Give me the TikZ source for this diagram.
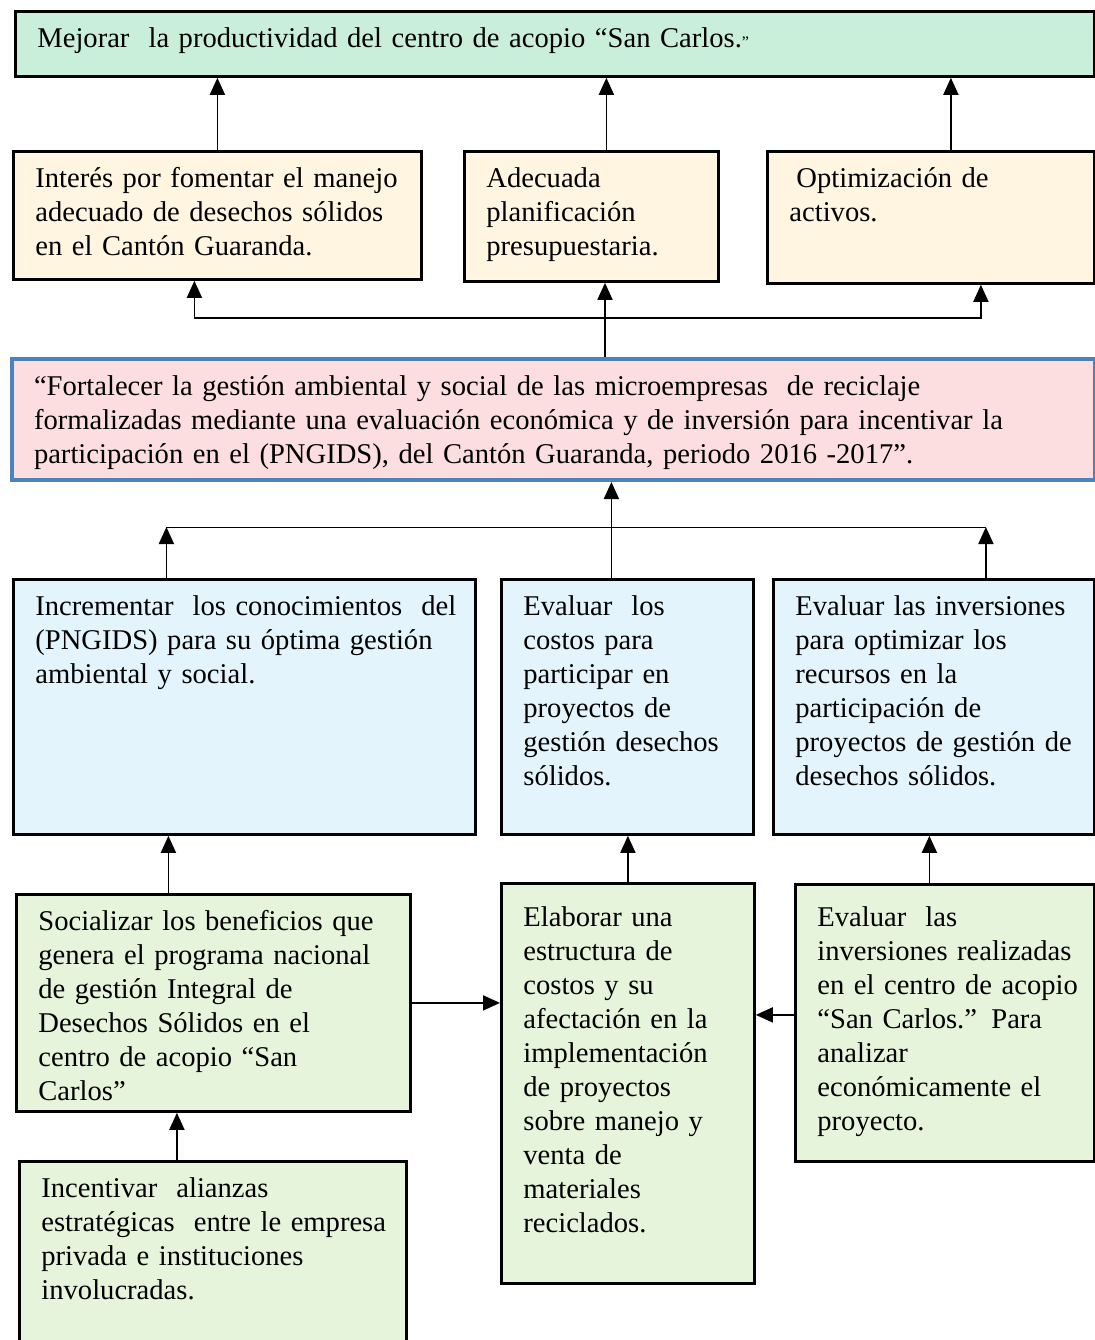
\documentclass[tikz,border=0pt]{standalone}
\usepackage{fontspec}
\setmainfont{Liberation Serif}
\usepackage{tikz}
\usetikzlibrary{arrows.meta}
\usetikzlibrary{calc}
\definecolor{menta}{HTML}{C9EEDA}
\definecolor{crema}{HTML}{FFF5E1}
\definecolor{rosa}{HTML}{FDDEE0}
\definecolor{azulb}{HTML}{4F81BD}
\definecolor{celeste}{HTML}{E3F4FC}
\definecolor{verdec}{HTML}{E7F4DC}

\begin{document}
\begin{tikzpicture}[x=0.5pt,y=-0.5pt,
  caja/.style={draw,line width=1.4pt,anchor=north west,align=left,
    inner xsep=0pt,inner ysep=8pt,text height=10pt,
    font=\fontsize{14.3pt}{17pt}\selectfont,
    execute at begin node={\leftskip=11pt}},
  flecha/.style={-{Triangle[length=8.5pt,width=7.5pt]},line width=0.9pt}]
\useasboundingbox (0,0) rectangle (1094,1340);
  \node[caja,fill=menta,text width=539.5pt,text depth=6.5pt] at (14,10) (fin){Mejorar~ la productividad del centro de acopio “San Carlos.{\footnotesize ”}};

  \node[caja,fill=crema,text width=204pt,text depth=38pt] at (12,150) (efecto1){Interés por fomentar el manejo\\adecuado de desechos sólidos\\en el Cantón Guaranda.};
  \node[caja,fill=crema,text width=127pt,text depth=39pt] at (463,150) (efecto2){Adecuada\\planificación\\presupuestaria.};
  \node[caja,fill=crema,text width=163.5pt,text depth=40pt] at (766,150) (efecto3){\hspace{3.5pt}Optimización de\\activos.};
  \draw [flecha] (efecto1.north) -- (efecto1.north |- fin.south);
  \draw [flecha] ([xshift=7.5pt]efecto2.north) -- ([xshift=7.5pt]efecto2.north |- fin.south);
  \draw [flecha] ([xshift=10pt]efecto3.north) -- ([xshift=10pt]efecto3.north |- fin.south);

  \node[caja,draw=azulb,line width=2pt,fill=rosa,text width=541.5pt,text depth=34.5pt] at (10,357) (proposito){“Fortalecer la gestión ambiental y social de las microempresas~ de reciclaje\\formalizadas mediante una evaluación económica y de inversión para incentivar la\\participación en el (PNGIDS), del Cantón Guaranda, periodo 2016 -2017”.};
  \coordinate (p1) at (605,318);
  \draw [flecha] (proposito.north -| p1) -- (efecto2.south -| p1);
  \draw [flecha] (p1) -| ([xshift=-11.5pt]efecto1.south);
  \draw [flecha] (p1) -| ([xshift=25pt]efecto3.south);

  \node[caja,fill=celeste,text width=231pt,text depth=101.5pt] at (12,578) (comp1){Incrementar~ los conocimientos~ del\\(PNGIDS) para su óptima gestión\\ambiental y social.};
  \node[caja,fill=celeste,text width=126pt,text depth=101.5pt] at (500,578) (comp2){Evaluar~ los\\costos para\\participar en\\proyectos de\\gestión desechos\\sólidos.};
  \node[caja,fill=celeste,text width=160.5pt,text depth=101.5pt] at (772,578) (comp3){Evaluar las inversiones\\para optimizar los\\recursos en la\\participación de\\proyectos de gestión de\\desechos sólidos.};
  \coordinate (p2) at (610,527);
  \draw [flecha] ([xshift=-8pt]comp2.north) -- ([xshift=-8pt]comp2.north |- proposito.south);
  \draw ([xshift=-39pt]comp1.north |- p2) -- ([xshift=26pt]comp3.north |- p2);
  \draw [flecha] ([xshift=-39pt]comp1.north) -- ([xshift=-39pt]comp1.north |- p2);
  \draw [flecha] ([xshift=26pt]comp3.north) -- ([xshift=26pt]comp3.north |- p2);

  \node[caja,fill=verdec,text width=197pt,text depth=82.5pt] at (15,893) (accion1){Socializar los beneficios que\\genera el programa nacional\\de gestión Integral de\\Desechos Sólidos en el\\centro de acopio “San\\Carlos”};
  \node[caja,fill=verdec,text width=126.5pt,text height=13.5pt,text depth=170.5pt] at (500,882) (accion2){Elaborar una\\estructura de\\costos y su\\afectación en la\\implementación\\de proyectos\\sobre manejo y\\venta de\\materiales\\reciclados.};
  \node[caja,fill=verdec,text width=149.5pt,text height=13pt,text depth=109.5pt] at (794,883) (accion3){Evaluar~ las\\inversiones realizadas\\en el centro de acopio\\“San Carlos.” Para\\analizar\\económicamente el\\proyecto.};
  \node[caja,fill=verdec,text width=193.5pt,text depth=66.5pt] at (18,1160) (accion4){Incentivar~ alianzas\\estratégicas~ entre le empresa\\privada e instituciones\\involucradas.};
  \draw [flecha] ([xshift=-22.5pt]accion1.north) -- ([xshift=-22.5pt]accion1.north |- comp1.south);
  \draw [flecha] (accion2.north) -- (accion2.north |- comp2.south);
  \draw [flecha] ([xshift=-7.75pt]accion3.north) -- ([xshift=-7.75pt]accion3.north |- comp3.south);
  \draw [flecha] (accion1.east) -- (accion1.east -| accion2.west);
  \draw [flecha] ([yshift=4pt]accion3.west) -- ([yshift=4pt]accion3.west -| accion2.east);
  \draw [flecha] ([xshift=-18pt]accion4.north) -- ([xshift=-18pt]accion4.north |- accion1.south);

\end{tikzpicture}
\end{document}
